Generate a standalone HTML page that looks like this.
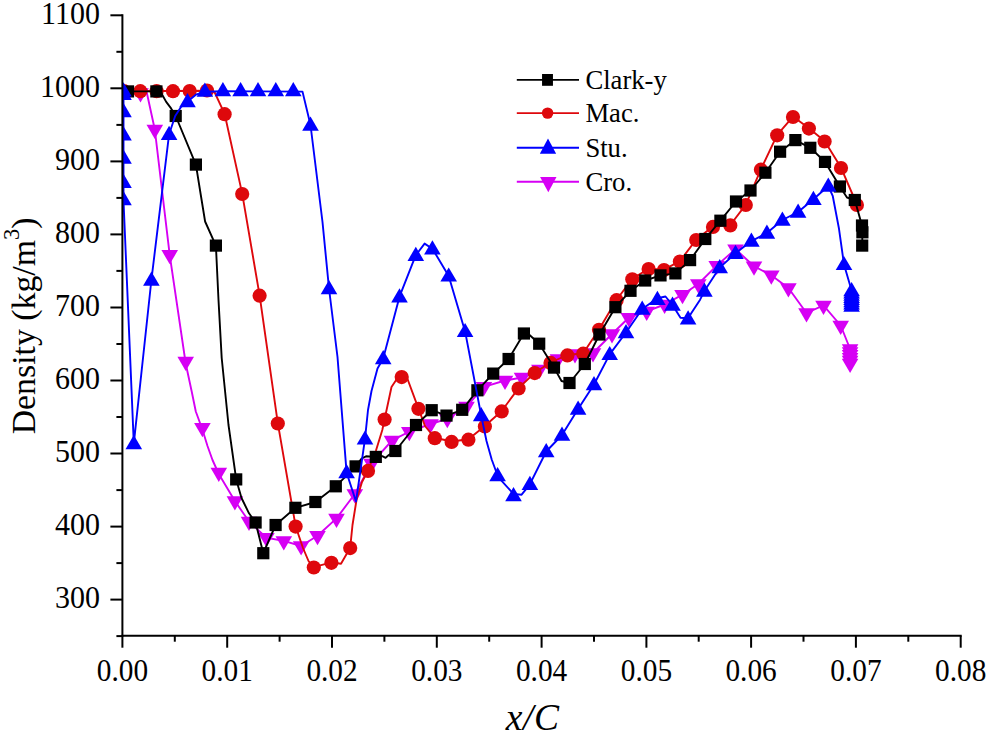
<!DOCTYPE html>
<html><head><meta charset="utf-8"><title>Density vs x/C</title>
<style>
html,body{margin:0;padding:0;background:#fff;}
svg{display:block;}
text{font-family:"Liberation Serif",serif;fill:#000;}
</style></head><body>
<svg width="991" height="734" viewBox="0 0 991 734">
<rect x="0" y="0" width="991" height="734" fill="#ffffff"/>
<defs><clipPath id="pc"><rect x="122.4" y="0" width="900" height="635.7"/></clipPath></defs>

<g clip-path="url(#pc)">
<polyline points="122.4,89.5 146.0,89.0 154.8,129.5 169.7,254.8 185.7,363.5 191.6,391.0 195.8,411.5 202.4,429.5 207.5,446.0 212.5,460.0 218.8,474.0 234.9,501.0 249.0,521.5 266.4,537.8 283.8,540.9 301.1,546.0 317.5,535.8 336.5,518.4 354.8,494.0 371.5,463.4 392.0,440.5 409.3,431.7 430.5,424.0 447.3,418.8 466.5,406.5 483.9,386.8 505.0,380.5 522.0,377.5 539.4,369.5 558.0,359.0 575.0,354.0 593.0,353.0 612.0,334.0 628.8,317.7 646.7,311.4 664.6,304.5 682.5,294.7 698.3,284.0 716.7,265.6 735.5,249.2 754.0,266.2 771.3,275.3 788.4,288.0 806.5,313.0 823.5,305.4 840.7,325.5 850.1,349.0 850.1,363.4" fill="none" stroke="#d600f4" stroke-width="1.9" stroke-linejoin="round"/>
<polygon points="140.5,102.5 132.2,88.3 148.8,88.3" fill="#d600f4"/>
<polygon points="154.8,139.0 146.5,124.8 163.1,124.8" fill="#d600f4"/>
<polygon points="169.7,264.3 161.4,250.1 178.0,250.1" fill="#d600f4"/>
<polygon points="185.7,371.0 177.4,356.8 194.0,356.8" fill="#d600f4"/>
<polygon points="202.4,437.2 194.1,423.0 210.7,423.0" fill="#d600f4"/>
<polygon points="218.8,482.0 210.5,467.8 227.1,467.8" fill="#d600f4"/>
<polygon points="234.9,510.5 226.6,496.3 243.2,496.3" fill="#d600f4"/>
<polygon points="249.0,531.0 240.7,516.8 257.3,516.8" fill="#d600f4"/>
<polygon points="266.4,547.3 258.1,533.1 274.7,533.1" fill="#d600f4"/>
<polygon points="283.8,550.4 275.5,536.2 292.1,536.2" fill="#d600f4"/>
<polygon points="301.1,555.5 292.8,541.3 309.4,541.3" fill="#d600f4"/>
<polygon points="317.5,545.3 309.2,531.1 325.8,531.1" fill="#d600f4"/>
<polygon points="336.5,527.9 328.2,513.7 344.8,513.7" fill="#d600f4"/>
<polygon points="354.8,503.5 346.5,489.3 363.1,489.3" fill="#d600f4"/>
<polygon points="371.5,472.9 363.2,458.7 379.8,458.7" fill="#d600f4"/>
<polygon points="392.0,450.0 383.7,435.8 400.3,435.8" fill="#d600f4"/>
<polygon points="409.3,441.2 401.0,427.0 417.6,427.0" fill="#d600f4"/>
<polygon points="430.5,433.5 422.2,419.3 438.8,419.3" fill="#d600f4"/>
<polygon points="447.3,428.3 439.0,414.1 455.6,414.1" fill="#d600f4"/>
<polygon points="466.5,416.0 458.2,401.8 474.8,401.8" fill="#d600f4"/>
<polygon points="483.9,396.3 475.6,382.1 492.2,382.1" fill="#d600f4"/>
<polygon points="505.0,390.0 496.7,375.8 513.3,375.8" fill="#d600f4"/>
<polygon points="522.0,387.0 513.7,372.8 530.3,372.8" fill="#d600f4"/>
<polygon points="539.4,379.0 531.1,364.8 547.7,364.8" fill="#d600f4"/>
<polygon points="558.0,368.5 549.7,354.3 566.3,354.3" fill="#d600f4"/>
<polygon points="575.0,363.5 566.7,349.3 583.3,349.3" fill="#d600f4"/>
<polygon points="593.0,362.5 584.7,348.3 601.3,348.3" fill="#d600f4"/>
<polygon points="612.0,343.5 603.7,329.3 620.3,329.3" fill="#d600f4"/>
<polygon points="628.8,327.2 620.5,313.0 637.1,313.0" fill="#d600f4"/>
<polygon points="646.7,320.9 638.4,306.7 655.0,306.7" fill="#d600f4"/>
<polygon points="664.6,314.0 656.3,299.8 672.9,299.8" fill="#d600f4"/>
<polygon points="682.5,304.2 674.2,290.0 690.8,290.0" fill="#d600f4"/>
<polygon points="698.3,293.5 690.0,279.3 706.6,279.3" fill="#d600f4"/>
<polygon points="716.7,275.1 708.4,260.9 725.0,260.9" fill="#d600f4"/>
<polygon points="735.5,258.7 727.2,244.5 743.8,244.5" fill="#d600f4"/>
<polygon points="754.0,275.7 745.7,261.5 762.3,261.5" fill="#d600f4"/>
<polygon points="771.3,284.8 763.0,270.6 779.6,270.6" fill="#d600f4"/>
<polygon points="788.4,297.5 780.1,283.3 796.7,283.3" fill="#d600f4"/>
<polygon points="806.5,322.5 798.2,308.3 814.8,308.3" fill="#d600f4"/>
<polygon points="823.5,314.9 815.2,300.7 831.8,300.7" fill="#d600f4"/>
<polygon points="840.7,335.0 832.4,320.8 849.0,320.8" fill="#d600f4"/>
<polygon points="850.1,358.5 841.8,344.3 858.4,344.3" fill="#d600f4"/>
<polygon points="850.1,361.4 841.8,347.2 858.4,347.2" fill="#d600f4"/>
<polygon points="850.1,364.3 841.8,350.1 858.4,350.1" fill="#d600f4"/>
<polygon points="850.1,367.1 841.8,352.9 858.4,352.9" fill="#d600f4"/>
<polygon points="850.1,370.0 841.8,355.8 858.4,355.8" fill="#d600f4"/>
<polygon points="850.1,372.9 841.8,358.7 858.4,358.7" fill="#d600f4"/>
<polyline points="122.4,91.2 207.0,90.7 214.5,92.0 224.6,113.8 242.2,193.6 259.6,295.3 277.8,423.1 295.6,526.2 303.0,548.0 308.5,561.0 313.8,567.1 331.4,562.4 341.0,563.8 350.2,547.7 352.5,525.0 356.5,500.0 362.0,482.0 368.0,470.5 376.0,450.5 382.3,430.0 384.6,419.2 391.5,387.0 396.5,379.5 401.7,376.7 407.5,379.0 418.4,408.4 425.0,426.0 434.8,437.8 451.6,441.5 468.4,439.3 484.9,426.0 501.7,411.0 518.6,388.1 534.7,372.7 550.5,362.5 567.4,355.0 583.2,353.3 599.0,329.4 616.6,299.8 632.3,278.9 648.6,268.7 664.0,269.7 679.9,261.1 696.2,239.6 713.0,226.5 730.3,225.0 745.8,204.6 760.9,169.3 777.2,134.9 793.0,116.6 808.9,128.2 824.6,141.1 841.0,167.6 856.9,204.5" fill="none" stroke="#de080c" stroke-width="1.9" stroke-linejoin="round"/>
<circle cx="124.0" cy="91.2" r="7.1" fill="#de080c"/>
<circle cx="140.3" cy="91.2" r="7.1" fill="#de080c"/>
<circle cx="156.6" cy="91.2" r="7.1" fill="#de080c"/>
<circle cx="173.0" cy="91.2" r="7.1" fill="#de080c"/>
<circle cx="189.7" cy="91.0" r="7.1" fill="#de080c"/>
<circle cx="207.0" cy="90.5" r="7.1" fill="#de080c"/>
<circle cx="224.6" cy="114.2" r="7.1" fill="#de080c"/>
<circle cx="242.2" cy="194.0" r="7.1" fill="#de080c"/>
<circle cx="259.6" cy="295.7" r="7.1" fill="#de080c"/>
<circle cx="277.8" cy="423.5" r="7.1" fill="#de080c"/>
<circle cx="295.6" cy="526.6" r="7.1" fill="#de080c"/>
<circle cx="313.8" cy="567.5" r="7.1" fill="#de080c"/>
<circle cx="331.4" cy="562.8" r="7.1" fill="#de080c"/>
<circle cx="350.2" cy="548.1" r="7.1" fill="#de080c"/>
<circle cx="368.0" cy="470.9" r="7.1" fill="#de080c"/>
<circle cx="384.6" cy="419.6" r="7.1" fill="#de080c"/>
<circle cx="401.7" cy="377.1" r="7.1" fill="#de080c"/>
<circle cx="418.4" cy="408.8" r="7.1" fill="#de080c"/>
<circle cx="434.8" cy="438.2" r="7.1" fill="#de080c"/>
<circle cx="451.6" cy="441.9" r="7.1" fill="#de080c"/>
<circle cx="468.4" cy="439.7" r="7.1" fill="#de080c"/>
<circle cx="484.9" cy="426.4" r="7.1" fill="#de080c"/>
<circle cx="501.7" cy="411.4" r="7.1" fill="#de080c"/>
<circle cx="518.6" cy="388.5" r="7.1" fill="#de080c"/>
<circle cx="534.7" cy="373.1" r="7.1" fill="#de080c"/>
<circle cx="550.5" cy="362.9" r="7.1" fill="#de080c"/>
<circle cx="567.4" cy="355.4" r="7.1" fill="#de080c"/>
<circle cx="583.2" cy="353.7" r="7.1" fill="#de080c"/>
<circle cx="599.0" cy="329.8" r="7.1" fill="#de080c"/>
<circle cx="616.6" cy="300.2" r="7.1" fill="#de080c"/>
<circle cx="632.3" cy="279.3" r="7.1" fill="#de080c"/>
<circle cx="648.6" cy="269.1" r="7.1" fill="#de080c"/>
<circle cx="664.0" cy="270.1" r="7.1" fill="#de080c"/>
<circle cx="679.9" cy="261.5" r="7.1" fill="#de080c"/>
<circle cx="696.2" cy="240.0" r="7.1" fill="#de080c"/>
<circle cx="713.0" cy="226.9" r="7.1" fill="#de080c"/>
<circle cx="730.3" cy="225.4" r="7.1" fill="#de080c"/>
<circle cx="745.8" cy="205.0" r="7.1" fill="#de080c"/>
<circle cx="760.9" cy="169.7" r="7.1" fill="#de080c"/>
<circle cx="777.2" cy="135.3" r="7.1" fill="#de080c"/>
<circle cx="793.0" cy="117.0" r="7.1" fill="#de080c"/>
<circle cx="808.9" cy="128.6" r="7.1" fill="#de080c"/>
<circle cx="824.6" cy="141.5" r="7.1" fill="#de080c"/>
<circle cx="841.0" cy="168.0" r="7.1" fill="#de080c"/>
<circle cx="856.9" cy="204.9" r="7.1" fill="#de080c"/>
<polyline points="128.0,91.4 156.4,91.4 161.5,93.5 166.2,101.9 171.1,108.4 175.7,116.0 195.9,164.6 200.8,195.0 205.1,221.5 215.9,245.6 218.5,300.0 221.7,358.0 228.5,425.0 236.2,479.4 241.5,498.0 249.0,513.3 255.6,522.5 263.3,553.2 275.6,525.0 295.4,507.8 315.4,502.0 335.8,486.3 355.6,466.4 361.6,458.5 366.0,456.3 375.8,456.9 382.3,456.1 385.6,457.8 388.8,455.1 395.4,451.0 416.0,425.0 431.7,410.2 446.5,415.6 462.2,409.8 477.4,390.3 493.2,373.6 508.6,359.0 523.9,333.5 529.0,334.5 539.2,343.7 554.0,367.6 561.5,381.0 569.5,383.0 584.8,364.0 599.4,334.5 615.4,307.2 630.5,290.8 645.2,280.5 660.5,275.4 675.4,273.4 690.1,260.1 705.3,239.0 720.4,220.7 736.0,201.5 750.5,190.5 765.4,172.7 780.1,151.7 795.4,140.1 810.3,147.8 825.0,161.9 839.9,186.5 847.0,197.5 854.8,200.0 862.0,225.5 862.4,232.3 862.2,245.6" fill="none" stroke="#000000" stroke-width="1.9" stroke-linejoin="round"/>
<rect x="121.9" y="85.3" width="12.2" height="12.2" fill="#000000"/>
<rect x="150.3" y="85.3" width="12.2" height="12.2" fill="#000000"/>
<rect x="169.6" y="109.9" width="12.2" height="12.2" fill="#000000"/>
<rect x="189.8" y="158.5" width="12.2" height="12.2" fill="#000000"/>
<rect x="209.8" y="239.5" width="12.2" height="12.2" fill="#000000"/>
<rect x="230.1" y="473.3" width="12.2" height="12.2" fill="#000000"/>
<rect x="249.5" y="516.4" width="12.2" height="12.2" fill="#000000"/>
<rect x="257.2" y="547.1" width="12.2" height="12.2" fill="#000000"/>
<rect x="269.5" y="518.9" width="12.2" height="12.2" fill="#000000"/>
<rect x="289.3" y="501.7" width="12.2" height="12.2" fill="#000000"/>
<rect x="309.3" y="495.9" width="12.2" height="12.2" fill="#000000"/>
<rect x="329.7" y="480.2" width="12.2" height="12.2" fill="#000000"/>
<rect x="349.5" y="460.3" width="12.2" height="12.2" fill="#000000"/>
<rect x="369.7" y="450.8" width="12.2" height="12.2" fill="#000000"/>
<rect x="389.3" y="444.9" width="12.2" height="12.2" fill="#000000"/>
<rect x="409.9" y="418.9" width="12.2" height="12.2" fill="#000000"/>
<rect x="425.6" y="404.1" width="12.2" height="12.2" fill="#000000"/>
<rect x="440.4" y="409.5" width="12.2" height="12.2" fill="#000000"/>
<rect x="456.1" y="403.7" width="12.2" height="12.2" fill="#000000"/>
<rect x="471.3" y="384.2" width="12.2" height="12.2" fill="#000000"/>
<rect x="487.1" y="367.5" width="12.2" height="12.2" fill="#000000"/>
<rect x="502.5" y="352.9" width="12.2" height="12.2" fill="#000000"/>
<rect x="517.8" y="327.4" width="12.2" height="12.2" fill="#000000"/>
<rect x="533.1" y="337.6" width="12.2" height="12.2" fill="#000000"/>
<rect x="547.9" y="361.5" width="12.2" height="12.2" fill="#000000"/>
<rect x="563.4" y="376.9" width="12.2" height="12.2" fill="#000000"/>
<rect x="578.7" y="357.9" width="12.2" height="12.2" fill="#000000"/>
<rect x="593.3" y="328.4" width="12.2" height="12.2" fill="#000000"/>
<rect x="609.3" y="301.1" width="12.2" height="12.2" fill="#000000"/>
<rect x="624.4" y="284.7" width="12.2" height="12.2" fill="#000000"/>
<rect x="639.1" y="274.4" width="12.2" height="12.2" fill="#000000"/>
<rect x="654.4" y="269.3" width="12.2" height="12.2" fill="#000000"/>
<rect x="669.3" y="267.3" width="12.2" height="12.2" fill="#000000"/>
<rect x="684.0" y="254.0" width="12.2" height="12.2" fill="#000000"/>
<rect x="699.2" y="232.9" width="12.2" height="12.2" fill="#000000"/>
<rect x="714.3" y="214.6" width="12.2" height="12.2" fill="#000000"/>
<rect x="729.9" y="195.4" width="12.2" height="12.2" fill="#000000"/>
<rect x="744.4" y="184.4" width="12.2" height="12.2" fill="#000000"/>
<rect x="759.3" y="166.6" width="12.2" height="12.2" fill="#000000"/>
<rect x="774.0" y="145.6" width="12.2" height="12.2" fill="#000000"/>
<rect x="789.3" y="134.0" width="12.2" height="12.2" fill="#000000"/>
<rect x="804.2" y="141.7" width="12.2" height="12.2" fill="#000000"/>
<rect x="818.9" y="155.8" width="12.2" height="12.2" fill="#000000"/>
<rect x="833.8" y="180.4" width="12.2" height="12.2" fill="#000000"/>
<rect x="848.7" y="193.9" width="12.2" height="12.2" fill="#000000"/>
<rect x="855.9" y="219.4" width="12.2" height="12.2" fill="#000000"/>
<rect x="856.3" y="226.2" width="12.2" height="12.2" fill="#000000"/>
<rect x="856.1" y="239.5" width="12.2" height="12.2" fill="#000000"/>
<polyline points="123.5,91.8 123.5,200.5 133.8,443.6 151.4,280.0 169.1,134.2 175.2,116.0 181.0,107.0 187.5,101.6 196.5,94.3 204.9,91.8 222.9,91.3 302.5,91.6 310.5,125.0 322.5,222.0 329.0,288.5 337.5,357.0 346.6,472.6 356.0,501.5 365.0,438.9 368.0,410.0 371.5,391.0 377.5,368.5 383.2,358.5 399.5,296.7 415.8,255.2 424.6,243.6 432.4,248.7 448.7,275.9 465.1,331.4 481.2,415.5 486.5,441.0 491.7,459.5 497.6,475.5 501.2,480.4 510.1,490.2 513.4,493.9 521.6,494.7 526.9,488.2 529.9,484.2 546.2,451.5 562.0,435.0 578.1,409.0 594.0,384.5 609.7,354.4 626.0,332.5 642.2,309.0 657.4,298.3 665.5,296.5 672.5,305.0 680.5,317.8 688.3,318.4 690.9,313.8 700.1,299.7 704.4,291.1 719.7,267.6 735.5,253.3 751.4,241.1 766.9,233.0 782.4,220.0 798.1,212.0 813.4,199.3 828.3,186.0 832.8,196.2 839.0,228.8 844.0,264.4 851.6,290.6 851.6,306.0" fill="none" stroke="#0000ff" stroke-width="1.9" stroke-linejoin="round"/>
<polygon points="123.5,82.3 115.2,96.5 131.8,96.5" fill="#0000ff"/>
<polygon points="123.5,85.7 115.2,99.9 131.8,99.9" fill="#0000ff"/>
<polygon points="123.5,103.1 115.2,117.3 131.8,117.3" fill="#0000ff"/>
<polygon points="123.5,126.2 115.2,140.4 131.8,140.4" fill="#0000ff"/>
<polygon points="123.5,149.6 115.2,163.8 131.8,163.8" fill="#0000ff"/>
<polygon points="123.5,173.7 115.2,187.9 131.8,187.9" fill="#0000ff"/>
<polygon points="123.5,191.0 115.2,205.2 131.8,205.2" fill="#0000ff"/>
<polygon points="133.8,435.1 125.5,449.3 142.1,449.3" fill="#0000ff"/>
<polygon points="151.4,271.5 143.1,285.7 159.7,285.7" fill="#0000ff"/>
<polygon points="169.1,125.7 160.8,139.9 177.4,139.9" fill="#0000ff"/>
<polygon points="187.5,93.1 179.2,107.3 195.8,107.3" fill="#0000ff"/>
<polygon points="204.9,82.6 196.6,96.8 213.2,96.8" fill="#0000ff"/>
<polygon points="222.9,82.1 214.6,96.3 231.2,96.3" fill="#0000ff"/>
<polygon points="240.6,82.1 232.3,96.3 248.9,96.3" fill="#0000ff"/>
<polygon points="258.0,82.1 249.7,96.3 266.3,96.3" fill="#0000ff"/>
<polygon points="275.8,82.1 267.5,96.3 284.1,96.3" fill="#0000ff"/>
<polygon points="293.3,82.1 285.0,96.3 301.6,96.3" fill="#0000ff"/>
<polygon points="310.5,116.5 302.2,130.7 318.8,130.7" fill="#0000ff"/>
<polygon points="329.0,280.0 320.7,294.2 337.3,294.2" fill="#0000ff"/>
<polygon points="346.6,464.1 338.3,478.3 354.9,478.3" fill="#0000ff"/>
<polygon points="365.0,430.4 356.7,444.6 373.3,444.6" fill="#0000ff"/>
<polygon points="383.2,350.0 374.9,364.2 391.5,364.2" fill="#0000ff"/>
<polygon points="399.5,288.2 391.2,302.4 407.8,302.4" fill="#0000ff"/>
<polygon points="415.8,246.7 407.5,260.9 424.1,260.9" fill="#0000ff"/>
<polygon points="432.4,240.2 424.1,254.4 440.7,254.4" fill="#0000ff"/>
<polygon points="448.7,267.4 440.4,281.6 457.0,281.6" fill="#0000ff"/>
<polygon points="465.1,322.9 456.8,337.1 473.4,337.1" fill="#0000ff"/>
<polygon points="481.2,407.0 472.9,421.2 489.5,421.2" fill="#0000ff"/>
<polygon points="497.6,467.0 489.3,481.2 505.9,481.2" fill="#0000ff"/>
<polygon points="513.5,487.1 505.2,501.3 521.8,501.3" fill="#0000ff"/>
<polygon points="529.9,475.7 521.6,489.9 538.2,489.9" fill="#0000ff"/>
<polygon points="546.2,443.0 537.9,457.2 554.5,457.2" fill="#0000ff"/>
<polygon points="562.0,426.5 553.7,440.7 570.3,440.7" fill="#0000ff"/>
<polygon points="578.1,400.5 569.8,414.7 586.4,414.7" fill="#0000ff"/>
<polygon points="594.0,376.0 585.7,390.2 602.3,390.2" fill="#0000ff"/>
<polygon points="609.7,345.9 601.4,360.1 618.0,360.1" fill="#0000ff"/>
<polygon points="626.0,324.0 617.7,338.2 634.3,338.2" fill="#0000ff"/>
<polygon points="642.2,300.5 633.9,314.7 650.5,314.7" fill="#0000ff"/>
<polygon points="657.4,290.7 649.1,304.9 665.7,304.9" fill="#0000ff"/>
<polygon points="672.5,296.5 664.2,310.7 680.8,310.7" fill="#0000ff"/>
<polygon points="688.1,310.2 679.8,324.4 696.4,324.4" fill="#0000ff"/>
<polygon points="704.4,282.6 696.1,296.8 712.7,296.8" fill="#0000ff"/>
<polygon points="719.7,259.1 711.4,273.3 728.0,273.3" fill="#0000ff"/>
<polygon points="735.5,244.8 727.2,259.0 743.8,259.0" fill="#0000ff"/>
<polygon points="751.4,232.6 743.1,246.8 759.7,246.8" fill="#0000ff"/>
<polygon points="766.9,224.5 758.6,238.7 775.2,238.7" fill="#0000ff"/>
<polygon points="782.4,211.5 774.1,225.7 790.7,225.7" fill="#0000ff"/>
<polygon points="798.1,203.5 789.8,217.7 806.4,217.7" fill="#0000ff"/>
<polygon points="813.4,190.8 805.1,205.0 821.7,205.0" fill="#0000ff"/>
<polygon points="828.3,177.5 820.0,191.7 836.6,191.7" fill="#0000ff"/>
<polygon points="844.0,255.9 835.7,270.1 852.3,270.1" fill="#0000ff"/>
<polygon points="851.6,282.1 843.3,296.3 859.9,296.3" fill="#0000ff"/>
<polygon points="851.6,284.3 843.3,298.5 859.9,298.5" fill="#0000ff"/>
<polygon points="851.6,286.5 843.3,300.7 859.9,300.7" fill="#0000ff"/>
<polygon points="851.6,288.7 843.3,302.9 859.9,302.9" fill="#0000ff"/>
<polygon points="851.6,290.9 843.3,305.1 859.9,305.1" fill="#0000ff"/>
<polygon points="851.6,293.1 843.3,307.3 859.9,307.3" fill="#0000ff"/>
<polygon points="851.6,295.3 843.3,309.5 859.9,309.5" fill="#0000ff"/>
<polygon points="851.6,297.5 843.3,311.7 859.9,311.7" fill="#0000ff"/>
</g>
<g stroke="#000" stroke-width="2" fill="none" stroke-linecap="butt">
<line x1="122.4" y1="14.3" x2="122.4" y2="636.7"/>
<line x1="121.4" y1="635.7" x2="961.7" y2="635.7"/>
<line x1="116.4" y1="636.1" x2="122.4" y2="636.1"/>
<line x1="110.4" y1="599.6" x2="122.4" y2="599.6"/>
<line x1="116.4" y1="563.1" x2="122.4" y2="563.1"/>
<line x1="110.4" y1="526.6" x2="122.4" y2="526.6"/>
<line x1="116.4" y1="490.1" x2="122.4" y2="490.1"/>
<line x1="110.4" y1="453.5" x2="122.4" y2="453.5"/>
<line x1="116.4" y1="417.0" x2="122.4" y2="417.0"/>
<line x1="110.4" y1="380.5" x2="122.4" y2="380.5"/>
<line x1="116.4" y1="344.0" x2="122.4" y2="344.0"/>
<line x1="110.4" y1="307.5" x2="122.4" y2="307.5"/>
<line x1="116.4" y1="270.9" x2="122.4" y2="270.9"/>
<line x1="110.4" y1="234.4" x2="122.4" y2="234.4"/>
<line x1="116.4" y1="197.9" x2="122.4" y2="197.9"/>
<line x1="110.4" y1="161.4" x2="122.4" y2="161.4"/>
<line x1="116.4" y1="124.9" x2="122.4" y2="124.9"/>
<line x1="110.4" y1="88.3" x2="122.4" y2="88.3"/>
<line x1="116.4" y1="51.8" x2="122.4" y2="51.8"/>
<line x1="110.4" y1="15.3" x2="122.4" y2="15.3"/>
<line x1="122.4" y1="635.7" x2="122.4" y2="647.7"/>
<line x1="174.8" y1="635.7" x2="174.8" y2="641.7"/>
<line x1="227.2" y1="635.7" x2="227.2" y2="647.7"/>
<line x1="279.6" y1="635.7" x2="279.6" y2="641.7"/>
<line x1="332.0" y1="635.7" x2="332.0" y2="647.7"/>
<line x1="384.4" y1="635.7" x2="384.4" y2="641.7"/>
<line x1="436.8" y1="635.7" x2="436.8" y2="647.7"/>
<line x1="489.2" y1="635.7" x2="489.2" y2="641.7"/>
<line x1="541.6" y1="635.7" x2="541.6" y2="647.7"/>
<line x1="594.0" y1="635.7" x2="594.0" y2="641.7"/>
<line x1="646.4" y1="635.7" x2="646.4" y2="647.7"/>
<line x1="698.7" y1="635.7" x2="698.7" y2="641.7"/>
<line x1="751.1" y1="635.7" x2="751.1" y2="647.7"/>
<line x1="803.5" y1="635.7" x2="803.5" y2="641.7"/>
<line x1="855.9" y1="635.7" x2="855.9" y2="647.7"/>
<line x1="908.3" y1="635.7" x2="908.3" y2="641.7"/>
<line x1="960.7" y1="635.7" x2="960.7" y2="647.7"/>
</g>
<text transform="translate(100,608.4) scale(1,1.065)" font-size="30" text-anchor="end">300</text>
<text transform="translate(100,535.4) scale(1,1.065)" font-size="30" text-anchor="end">400</text>
<text transform="translate(100,462.3) scale(1,1.065)" font-size="30" text-anchor="end">500</text>
<text transform="translate(100,389.3) scale(1,1.065)" font-size="30" text-anchor="end">600</text>
<text transform="translate(100,316.3) scale(1,1.065)" font-size="30" text-anchor="end">700</text>
<text transform="translate(100,243.2) scale(1,1.065)" font-size="30" text-anchor="end">800</text>
<text transform="translate(100,170.2) scale(1,1.065)" font-size="30" text-anchor="end">900</text>
<text transform="translate(100,97.1) scale(1,1.065)" font-size="30" text-anchor="end">1000</text>
<text transform="translate(100,24.1) scale(1,1.065)" font-size="30" text-anchor="end">1100</text>
<text transform="translate(122.4,680.9) scale(1,1.09)" font-size="29.3" text-anchor="middle">0.00</text>
<text transform="translate(227.2,680.9) scale(1,1.09)" font-size="29.3" text-anchor="middle">0.01</text>
<text transform="translate(332.0,680.9) scale(1,1.09)" font-size="29.3" text-anchor="middle">0.02</text>
<text transform="translate(436.8,680.9) scale(1,1.09)" font-size="29.3" text-anchor="middle">0.03</text>
<text transform="translate(541.6,680.9) scale(1,1.09)" font-size="29.3" text-anchor="middle">0.04</text>
<text transform="translate(646.4,680.9) scale(1,1.09)" font-size="29.3" text-anchor="middle">0.05</text>
<text transform="translate(751.1,680.9) scale(1,1.09)" font-size="29.3" text-anchor="middle">0.06</text>
<text transform="translate(855.9,680.9) scale(1,1.09)" font-size="29.3" text-anchor="middle">0.07</text>
<text transform="translate(960.7,680.9) scale(1,1.09)" font-size="29.3" text-anchor="middle">0.08</text>
<text transform="translate(34.8,434.3) rotate(-90)" font-size="33.8">Density (kg/m<tspan font-size="22.5" dy="-15.6">3</tspan><tspan dy="15.6">)</tspan></text>
<text x="505.8" y="729.6" font-size="37.5" font-style="italic" letter-spacing="0.6">x/C</text>
<line x1="516.8" y1="79.9" x2="579" y2="79.9" stroke="#000000" stroke-width="1.9"/>
<rect x="542.05" y="74.00" width="10.9" height="11.8" fill="#000000"/>
<text x="585.4" y="88.7" font-size="26.67">Clark-y</text>
<line x1="516.8" y1="113.1" x2="579" y2="113.1" stroke="#de080c" stroke-width="1.9"/>
<circle cx="547.6" cy="113.1" r="5.7" fill="#de080c"/>
<text x="585.4" y="122.4" font-size="26.67">Mac.</text>
<line x1="516.8" y1="147.7" x2="579" y2="147.7" stroke="#0000ff" stroke-width="1.9"/>
<polygon points="548,138.6 539.85,153.7 556.15,153.7" fill="#0000ff"/>
<text x="585.4" y="156.5" font-size="26.67">Stu.</text>
<line x1="516.8" y1="181.8" x2="579" y2="181.8" stroke="#d600f4" stroke-width="1.9"/>
<polygon points="548.3,192.3 540.0999999999999,176.9 556.5,176.9" fill="#d600f4"/>
<text x="585.4" y="190.6" font-size="26.67">Cro.</text>
</svg></body></html>
